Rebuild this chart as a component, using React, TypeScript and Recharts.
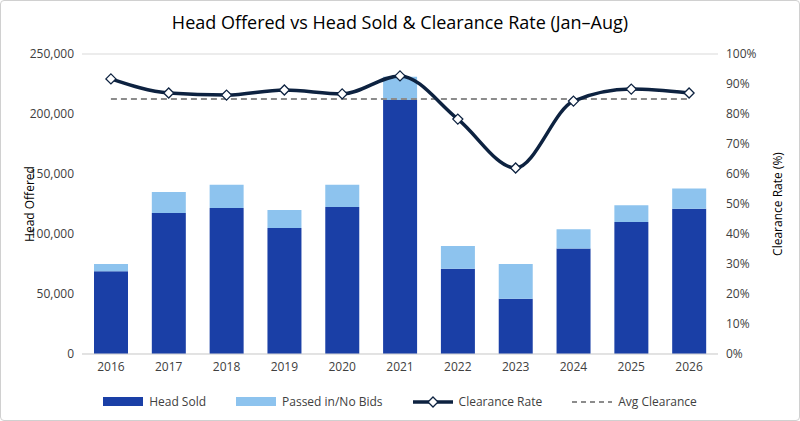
import React from 'react';
import { ComposedChart, Bar, Line, XAxis, YAxis, CartesianGrid } from 'recharts';

const years = ['2016', '2017', '2018', '2019', '2020', '2021', '2022', '2023', '2024', '2025', '2026'];
const headSold = [69000, 117500, 121700, 105000, 122500, 211700, 71000, 46000, 88000, 110000, 121000];
const passedIn = [6000, 17500, 19300, 15000, 18500, 19300, 19000, 29000, 16000, 14000, 17000];
const clearance = [91.7, 87, 86.3, 88, 86.7, 92.7, 78.3, 62, 84.3, 88.3, 87];
const avgClearance = 85;

const data = years.map((y, i) => ({
  year: y, sold: headSold[i], passed: passedIn[i], rate: clearance[i], avg: avgClearance,
}));

const FONT = '"Open Sans", "Liberation Sans", sans-serif';
const tick = { fontSize: 12, fill: '#404040', fontFamily: FONT };

const Diamond = (props: any) => {
  const { cx, cy } = props;
  if (cx == null || cy == null) return null;
  const r = 5;
  return <path d={`M${cx},${cy - r}L${cx + r},${cy}L${cx},${cy + r}L${cx - r},${cy}Z`} fill="#fff" stroke="#0D2240" strokeWidth={1.3} />;
};

const LegendItem = ({ kind, color, label }: { kind: string; color: string; label: string }) => (
  <div style={{ display: 'flex', alignItems: 'center', gap: 6 }}>
    {kind === 'box' && <div style={{ width: 40, height: 9, background: color }} />}
    {kind === 'line' && (
      <svg width={40} height={12}><line x1={0} y1={6} x2={40} y2={6} stroke={color} strokeWidth={3.5} /><path d="M20,1L25,6L20,11L15,6Z" fill="#fff" stroke={color} strokeWidth={1.3} /></svg>
    )}
    {kind === 'dash' && (
      <svg width={40} height={12}><line x1={0} y1={6} x2={40} y2={6} stroke={color} strokeWidth={2} strokeDasharray="5 4" /></svg>
    )}
    <span>{label}</span>
  </div>
);

export default function App() {
  return (
    <div style={{ position: 'absolute', left: 0, top: 0, width: 800, height: 421, background: '#fff', fontFamily: FONT }}>
      <div style={{ position: 'absolute', left: 0, top: 0, width: 798, height: 419, border: '1px solid #d0d0d0', borderRadius: 4 }} />
      <div style={{ position: 'absolute', top: 10, width: 800, textAlign: 'center', fontSize: 18, color: '#000' }}>
        Head Offered vs Head Sold &amp; Clearance Rate (Jan–Aug)
      </div>
      <ComposedChart width={800} height={421} data={data} margin={{ top: 54, left: 10, right: 10, bottom: 37 }}>
        <CartesianGrid vertical={false} stroke="#d9d9d9" />
        <XAxis dataKey="year" tick={tick} tickLine={false} axisLine={{ stroke: '#d9d9d9' }} height={30} />
        <YAxis yAxisId="l" width={72} domain={[0, 250000]} ticks={[0, 50000, 100000, 150000, 200000, 250000]}
          tickFormatter={(v: number) => v.toLocaleString('en-US')} tick={tick} tickLine={false} axisLine={false}
          label={{ value: 'Head Offered', angle: -90, position: 'insideLeft', offset: 20, style: { fontSize: 12, fill: '#000', textAnchor: 'middle' } }} />
        <YAxis yAxisId="r" orientation="right" width={72} domain={[0, 100]} ticks={[0, 10, 20, 30, 40, 50, 60, 70, 80, 90, 100]}
          tickFormatter={(v: number) => v + '%'} tick={tick} tickLine={false} axisLine={false}
          label={{ value: 'Clearance Rate (%)', angle: -90, position: 'insideRight', offset: 12, style: { fontSize: 12, fill: '#000', textAnchor: 'middle' } }} />
        <Bar yAxisId="l" dataKey="sold" stackId="a" fill="#1A3FA6" barSize={34} isAnimationActive={false} />
        <Bar yAxisId="l" dataKey="passed" stackId="a" fill="#8DC3EE" barSize={34} isAnimationActive={false} />
        <Line yAxisId="r" dataKey="avg" stroke="#8c8c8c" strokeWidth={1.8} strokeDasharray="6 4" dot={false} isAnimationActive={false} />
        <Line yAxisId="r" dataKey="rate" type="monotone" stroke="#0D2240" strokeWidth={3.5} dot={<Diamond />} isAnimationActive={false} />
      </ComposedChart>
      <div style={{ position: 'absolute', top: 393, width: 800, display: 'flex', justifyContent: 'center', gap: 30, fontSize: 12, color: '#404040' }}>
        <LegendItem kind="box" color="#1A3FA6" label="Head Sold" />
        <LegendItem kind="box" color="#8DC3EE" label="Passed in/No Bids" />
        <LegendItem kind="line" color="#0D2240" label="Clearance Rate" />
        <LegendItem kind="dash" color="#8c8c8c" label="Avg Clearance" />
      </div>
    </div>
  );
}
